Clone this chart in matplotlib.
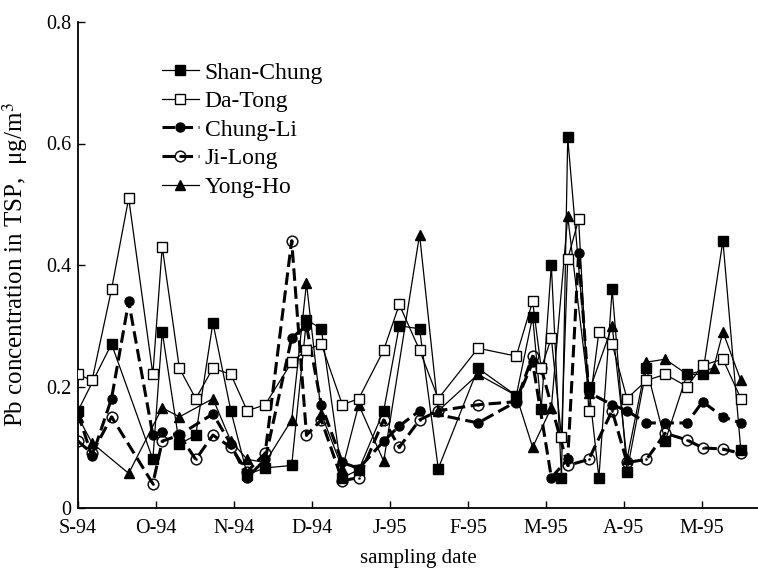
import matplotlib
matplotlib.use("Agg")
import matplotlib.pyplot as plt

plt.rcParams['font.family'] = ['Liberation Serif', 'DejaVu Serif']
plt.rcParams['mathtext.fontset'] = 'stix'
plt.rcParams['lines.scale_dashes'] = False

# x positions in months after 1 Sep 1994
month_labels = ['S-94', 'O-94', 'N-94', 'D-94', 'J-95', 'F-95', 'M-95', 'A-95', 'M-95']

shan_x = [0.0, 0.43, 0.96, 1.08, 1.30, 1.51, 1.73, 1.96, 2.17, 2.40, 2.74, 2.93, 3.12, 3.39, 3.60,
          3.92, 4.12, 4.38, 4.62, 5.13, 5.62, 5.83, 5.94, 6.07, 6.20, 6.28, 6.55, 6.68, 6.85, 7.04,
          7.29, 7.53, 7.81, 8.01, 8.27, 8.50]
shan_y = [0.16, 0.27, 0.08, 0.29, 0.105, 0.12, 0.305, 0.16, 0.055, 0.066, 0.07, 0.31, 0.295, 0.05, 0.063,
          0.16, 0.30, 0.295, 0.065, 0.23, 0.185, 0.315, 0.163, 0.40, 0.05, 0.61, 0.20, 0.05, 0.36, 0.06,
          0.23, 0.11, 0.22, 0.22, 0.44, 0.095]

datong_x = [0.0, 0.18, 0.43, 0.65, 0.96, 1.08, 1.30, 1.51, 1.73, 1.96, 2.17, 2.40, 2.74, 2.93, 3.12,
            3.39, 3.60, 3.92, 4.12, 4.38, 4.62, 5.13, 5.62, 5.83, 5.94, 6.07, 6.20, 6.28, 6.42, 6.55,
            6.68, 6.85, 7.04, 7.29, 7.53, 7.81, 8.01, 8.27, 8.50]
datong_y = [0.22, 0.21, 0.36, 0.51, 0.22, 0.43, 0.23, 0.18, 0.23, 0.22, 0.16, 0.17, 0.24, 0.26, 0.27,
            0.17, 0.18, 0.26, 0.335, 0.26, 0.18, 0.263, 0.25, 0.34, 0.23, 0.28, 0.117, 0.41, 0.475, 0.16,
            0.29, 0.27, 0.18, 0.21, 0.22, 0.20, 0.235, 0.245, 0.18]

chungli_x = [0.0, 0.18, 0.43, 0.65, 0.96, 1.08, 1.30, 1.73, 1.96, 2.17, 2.40, 2.74, 2.93, 3.12, 3.39,
             3.60, 3.92, 4.12, 4.38, 5.13, 5.62, 5.83, 6.07, 6.28, 6.42, 6.55, 6.85, 7.04, 7.29, 7.53,
             7.81, 8.01, 8.27, 8.50]
chungli_y = [0.155, 0.085, 0.18, 0.34, 0.12, 0.125, 0.12, 0.155, 0.105, 0.05, 0.08, 0.28, 0.30, 0.17, 0.075,
             0.065, 0.11, 0.135, 0.16, 0.14, 0.175, 0.24, 0.05, 0.08, 0.42, 0.19, 0.17, 0.16, 0.14, 0.14,
             0.14, 0.175, 0.15, 0.14]

jilong_x = [0.0, 0.18, 0.43, 0.96, 1.08, 1.30, 1.51, 1.73, 1.96, 2.17, 2.40, 2.74, 2.93, 3.12, 3.39,
            3.60, 3.92, 4.12, 4.38, 4.62, 5.13, 5.62, 5.83, 5.94, 6.28, 6.55, 6.85, 7.04, 7.29, 7.53,
            7.81, 8.01, 8.27, 8.50]
jilong_y = [0.11, 0.09, 0.15, 0.04, 0.11, 0.12, 0.08, 0.12, 0.10, 0.06, 0.09, 0.44, 0.12, 0.145, 0.045,
            0.05, 0.145, 0.10, 0.145, 0.16, 0.17, 0.175, 0.25, 0.23, 0.07, 0.08, 0.16, 0.075, 0.08, 0.123,
            0.112, 0.099, 0.097, 0.09]

yongho_x = [0.0, 0.18, 0.65, 1.08, 1.30, 1.73, 1.96, 2.17, 2.40, 2.74, 2.93, 3.12, 3.39, 3.60, 3.92,
            4.38, 4.62, 5.13, 5.62, 5.83, 6.07, 6.28, 6.55, 6.85, 7.04, 7.29, 7.53, 7.81, 8.15, 8.27,
            8.50]
yongho_y = [0.15, 0.107, 0.057, 0.165, 0.15, 0.18, 0.11, 0.08, 0.075, 0.145, 0.37, 0.155, 0.065, 0.17, 0.077,
            0.45, 0.16, 0.22, 0.185, 0.10, 0.165, 0.48, 0.19, 0.30, 0.08, 0.24, 0.245, 0.22, 0.23, 0.29,
            0.21]

fig = plt.figure(figsize=(7.58, 5.74), dpi=100)
ax = fig.add_axes([78/758, 1 - 508/574, 1 - 78/758, (508 - 22)/574])

dash = (9, 4)
l1, = ax.plot(shan_x, shan_y, '-', color='black', lw=0.9, marker='s', ms=6.5,
              mfc='black', mec='black', label='Shan-Chung', zorder=3)
l2, = ax.plot(datong_x, datong_y, '-', color='black', lw=0.9, marker='s', ms=7,
              mfc='white', mec='black', mew=1.0, label='Da-Tong', zorder=4)
l3, = ax.plot(chungli_x, chungli_y, color='black', lw=2.2, marker='o', ms=6.5,
              mfc='black', mec='black', label='Chung-Li', zorder=3)
l3.set_dashes(dash)
l4, = ax.plot(jilong_x, jilong_y, color='black', lw=2.2, marker=r'$\odot$', ms=8.5,
              mfc='black', mec='black', mew=0.2, label='Ji-Long', zorder=3)
l4.set_dashes(dash)
l5, = ax.plot(yongho_x, yongho_y, '-', color='black', lw=0.9, marker='^', ms=7.5,
              mfc='black', mec='black', label='Yong-Ho', zorder=3)

ax.set_xlim(0, 8.72)
ax.set_ylim(0, 0.8)
ax.set_xticks(range(len(month_labels)))
ax.set_xticklabels(month_labels)
ax.set_yticks([0, 0.2, 0.4, 0.6, 0.8])
ax.set_yticklabels(['0', '0.2', '0.4', '0.6', '0.8'])
ax.tick_params(direction='in', length=5, width=1, labelsize=14.5)
ax.tick_params(axis='y', pad=5)
ax.tick_params(axis='x', pad=8)
for s in ['top', 'right']:
    ax.spines[s].set_visible(False)
for s in ['left', 'bottom']:
    ax.spines[s].set_linewidth(1.3)

ax.set_xlabel('sampling date', fontsize=15, labelpad=8)
ax.set_ylabel('Pb concentration in TSP,  μg/m$^3$', fontsize=18)
ax.yaxis.set_label_coords(-0.07, 0.5)

leg = fig.legend([l1, l2, l3, l4, l5],
                 ['Shan-Chung', 'Da-Tong', 'Chung-Li', 'Ji-Long', 'Yong-Ho'],
                 loc='upper left', bbox_to_anchor=(162/758, 1 - 62/574),
                 frameon=False, fontsize=17, handlelength=1.55, handletextpad=0.25,
                 labelspacing=0.3, borderaxespad=0, borderpad=0)

fig.savefig('out.png', dpi=100)
